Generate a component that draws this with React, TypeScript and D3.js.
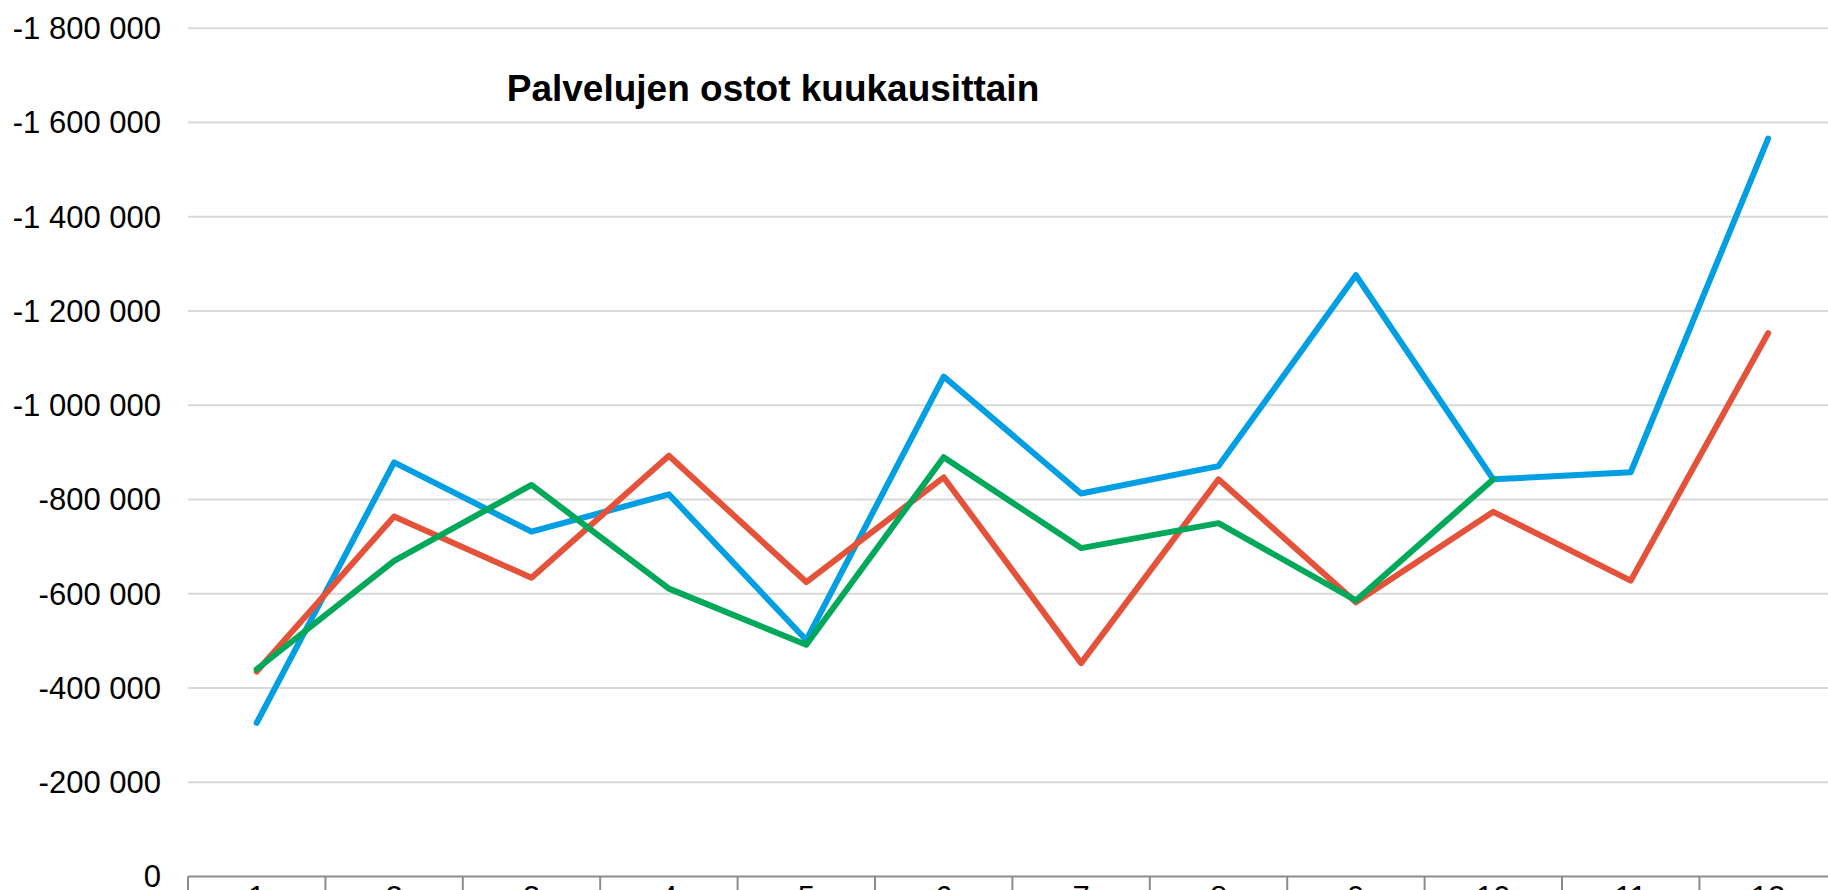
import { useRef, useEffect } from "react";
import * as d3 from "d3";

// kuukaudet 1-12
const months = ["1", "2", "3", "4", "5", "6", "7", "8", "9", "10", "11", "12"];
const yTicks = [0, -200000, -400000, -600000, -800000, -1000000, -1200000, -1400000, -1600000, -1800000];

// sarjat (sininen, punainen, vihreä)
const blueValues = [-326000, -879000, -732000, -811000, -502000, -1061000, -813000, -871000, -1276000, -843000, -858000, -1566000];
const redValues = [-435000, -764000, -634000, -893000, -625000, -847000, -453000, -843000, -582000, -774000, -628000, -1153000];
const greenValues = [-440000, -670000, -831000, -611000, -492000, -890000, -697000, -750000, -586000, -843000, null, null];

const seriesColors = ["#009ee3", "#e4523a", "#00a85a"];

const App = () => {
  const svgRef = useRef(null);

  useEffect(() => {
    document.body.style.margin = "0";
    document.body.style.overflow = "hidden";

    const width = 1828;
    const height = 890;
    const svg = d3.select(svgRef.current);
    svg.selectAll("*").remove();
    svg.attr("width", width).attr("height", height);

    const left = 188;
    const bandW = 137.4;

    const x = d3
      .scaleBand()
      .domain(months)
      .range([left, left + bandW * months.length])
      .padding(0);

    const y = d3.scaleLinear().domain([0, -1800000]).range([876.6, 28.3]);

    const fmt = d3
      .formatLocale({ decimal: ",", thousands: " ", grouping: [3], currency: ["", ""], minus: "-" })
      .format(",d");

    // vaakasuorat apuviivat
    svg
      .append("g")
      .selectAll("line")
      .data(yTicks.filter((d) => d !== 0))
      .enter()
      .append("line")
      .attr("x1", left)
      .attr("x2", left + bandW * months.length)
      .attr("y1", (d) => y(d))
      .attr("y2", (d) => y(d))
      .attr("stroke", "#d9d9d9")
      .attr("stroke-width", 2);

    // y-akselin tekstit
    svg
      .append("g")
      .selectAll("text")
      .data(yTicks)
      .enter()
      .append("text")
      .attr("x", 161)
      .attr("y", (d) => y(d))
      .attr("dy", "0.35em")
      .attr("text-anchor", "end")
      .attr("font-family", "Liberation Sans, Arial, sans-serif")
      .attr("font-size", 31)
      .attr("fill", "#000")
      .text((d) => fmt(d));

    // x-akseli
    const xAxis = svg.append("g");
    xAxis
      .append("line")
      .attr("x1", left)
      .attr("x2", left + bandW * months.length)
      .attr("y1", y(0))
      .attr("y2", y(0))
      .attr("stroke", "#8c8c8c")
      .attr("stroke-width", 2);

    xAxis
      .selectAll(".tick")
      .data([...months.map((m) => x(m)), left + bandW * months.length])
      .enter()
      .append("line")
      .attr("x1", (d) => d)
      .attr("x2", (d) => d)
      .attr("y1", y(0))
      .attr("y2", y(0) + 30)
      .attr("stroke", "#8c8c8c")
      .attr("stroke-width", 2);

    xAxis
      .selectAll("text")
      .data(months)
      .enter()
      .append("text")
      .attr("x", (d) => x(d) + x.bandwidth() / 2)
      .attr("y", y(0) + 31)
      .attr("text-anchor", "middle")
      .attr("font-family", "Liberation Sans, Arial, sans-serif")
      .attr("font-size", 31)
      .attr("fill", "#000")
      .text((d) => d);

    // viivat
    const line = d3
      .line()
      .defined((d) => d != null)
      .x((d, i) => x(months[i]) + x.bandwidth() / 2)
      .y((d) => y(d));

    [blueValues, redValues, greenValues].forEach((vals, i) => {
      svg
        .append("path")
        .datum(vals)
        .attr("d", line)
        .attr("fill", "none")
        .attr("stroke", seriesColors[i])
        .attr("stroke-width", 6)
        .attr("stroke-linejoin", "round")
        .attr("stroke-linecap", "round");
    });

    // otsikko
    svg
      .append("text")
      .attr("x", 773)
      .attr("y", 101)
      .attr("text-anchor", "middle")
      .attr("font-family", "Liberation Sans, Arial, sans-serif")
      .attr("font-weight", "bold")
      .attr("font-size", 37)
      .attr("fill", "#000")
      .text("Palvelujen ostot kuukausittain");
  }, []);

  return <svg ref={svgRef} style={{ display: "block" }}></svg>;
};

export default App;
